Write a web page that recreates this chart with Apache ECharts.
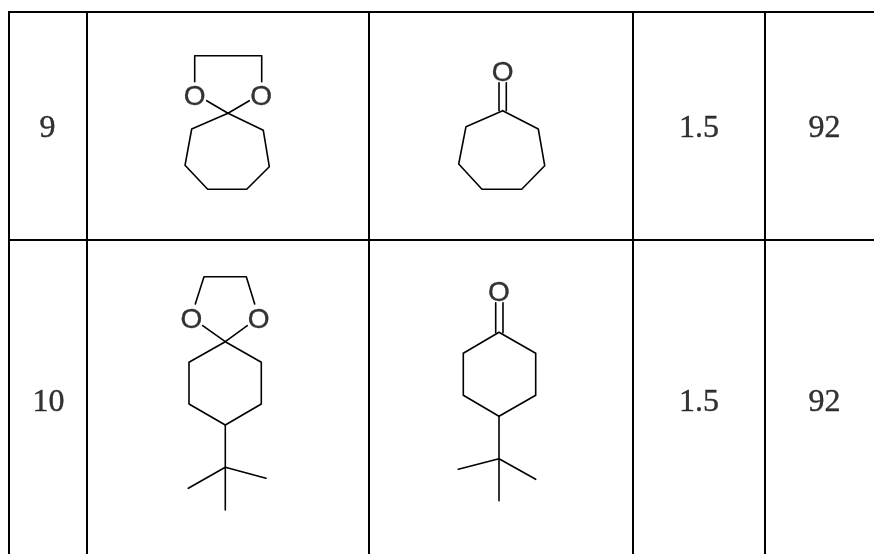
<!DOCTYPE html>
<html>
<head>
<meta charset="utf-8">
<style>html,body{margin:0;padding:0;background:#fff}#main{width:874px;height:554px}</style>
<script src="https://cdn.jsdelivr.net/npm/echarts@6/dist/echarts.min.js"></script>
</head>
<body>
<div id="main"></div>
<script>
// table rules, in picture units
var tableRules = [
    [[8, 12], [874, 12]],
    [[8, 240], [874, 240]],
    [[9, 11], [9, 554]],
    [[87, 11], [87, 554]],
    [[369, 11], [369, 554]],
    [[633, 11], [633, 554]],
    [[765, 11], [765, 554]]
];

// row 9, ketal
var ketal9 = [
    [[194.7, 81.7], [194.7, 55.7], [261.7, 55.7], [261.7, 81.7]],
    [[206.7, 100.7], [228, 113.3], [249.3, 100.7]],
    [[228, 113.3], [263.3, 130.3], [269.3, 166.7], [246.7, 189.3], [207.7, 189.3], [185, 165.3], [191.7, 129], [228, 113.3]]
];
// row 9, ketone
var ketone9 = [
    [[499, 82.7], [499, 110.7]],
    [[506.3, 82.7], [506.3, 110.7]],
    [[502.7, 110.7], [538.3, 129], [544.7, 165.7], [521.7, 189.3], [482, 189.3], [458.7, 164], [466, 126.7], [502.7, 110.7]]
];
// row 10, ketal
var ketal10 = [
    [[195.3, 304], [204, 276.7], [246.3, 276.7], [254.7, 304]],
    [[202.7, 325.7], [225.3, 341.7], [247.3, 325.7]],
    [[225.3, 341.7], [261.3, 362.3], [261.3, 404], [225.3, 425], [189, 404], [189, 362.3], [225.3, 341.7]],
    [[225.3, 425], [225.3, 510]],
    [[188.3, 488.3], [225.3, 467.3], [266, 478.3]]
];
// row 10, ketone
var ketone10 = [
    [[495.7, 302.7], [495.7, 332.7]],
    [[503, 302.7], [503, 332.7]],
    [[499, 332.3], [535.7, 353.3], [535.7, 395.3], [499, 416.3], [463.3, 395.3], [463.3, 353.3], [499, 332.3]],
    [[499, 416.3], [499, 500.7]],
    [[458.3, 469.3], [499, 458.7], [535.7, 479.3]]
];

var cellTexts = [
    [47.5, 129, '9'], [699, 129, '1.5'], [824.5, 129, '92'],
    [48.5, 402.5, '10'], [699, 402.5, '1.5'], [824.5, 402.5, '92']
];

var oxygens = [
    [194.7, 97.5, 'O'], [261.2, 97.5, 'O'],
    [502.7, 73.5, 'O'],
    [191.5, 320.5, 'O'], [258.7, 320.5, 'O'],
    [499, 293.5, 'O']
];

function lineSeries(path, width) {
    return {
        type: 'line',
        data: path,
        symbol: 'none',
        silent: true,
        animation: false,
        lineStyle: { color: '#000', width: width, cap: 'round', join: 'round' }
    };
}

function textSeries(points, fontFamily, fontSize) {
    return {
        type: 'scatter',
        data: points,
        symbolSize: 0,
        silent: true,
        animation: false,
        label: {
            show: true,
            position: 'inside',
            color: '#000',
            textBorderColor: '#000',
            textBorderWidth: 0.4,
            fontFamily: fontFamily,
            fontSize: fontSize,
            formatter: function (p) { return p.data[2]; }
        }
    };
}

var series = tableRules.map(function (p) {
    var s = lineSeries(p, 2);
    s.lineStyle.cap = 'butt';
    return s;
});
[ketal9, ketone9, ketal10, ketone10].forEach(function (mol) {
    mol.forEach(function (p) { series.push(lineSeries(p, 1.6)); });
});
series.push(textSeries(cellTexts, '"Liberation Serif"', 32));
series.push(textSeries(oxygens, '"Liberation Sans"', 28));

var myChart = echarts.init(document.getElementById('main'));
myChart.setOption({
    backgroundColor: '#fff',
    animation: false,
    grid: { left: 0, right: 0, top: 0, bottom: 0 },
    xAxis: { type: 'value', min: 0, max: 874, show: false },
    yAxis: { type: 'value', min: 0, max: 554, inverse: true, show: false },
    series: series
});
</script>
</body>
</html>
